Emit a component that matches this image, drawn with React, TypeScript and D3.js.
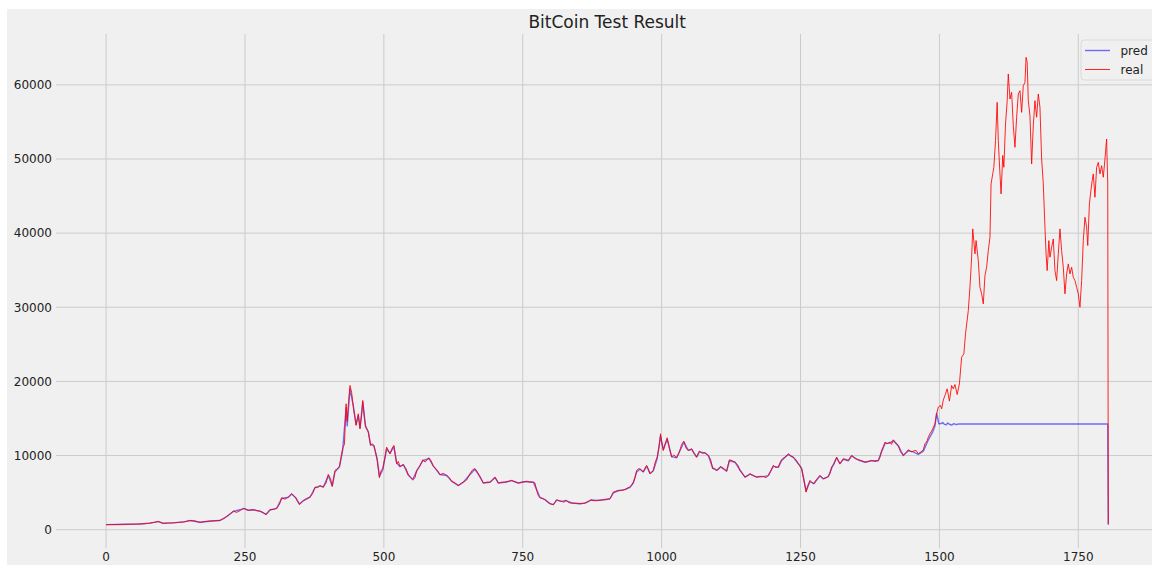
import React from 'react';
import * as d3 from 'd3';

// real price (day index, value)
const realIdx = [0,10,20,30,40,50,60,70,79,86,94,100,103,110,120,130,140,151,160,169,178,190,205,212,217,224,229,235,242,248,256,265,272,277,283,288,295,302,307,312,316,322,328,334,341,348,355,361,367,372,376,381,385,391,396,400,404,407,412,416,420,423,426,429,432,434,436,439,442,445,448,450,454,457,460,462,465,467,472,476,479,482,485,488,492,495,498,502,505,511,515,518,523,526,529,535,540,544,548,552,556,559,565,570,574,578,581,585,589,595,601,607,613,618,622,628,634,638,643,649,655,660,664,668,673,679,685,691,696,700,706,712,718,724,730,736,742,750,757,763,769,772,775,778,781,786,790,795,799,805,808,811,815,820,824,828,833,838,845,853,858,862,868,873,878,883,889,895,901,907,910,913,918,922,928,934,938,943,946,949,952,955,958,961,964,967,970,973,976,979,982,985,988,992,995,998,1000,1003,1006,1010,1014,1018,1022,1027,1032,1036,1040,1044,1048,1054,1058,1063,1068,1073,1078,1084,1088,1092,1095,1099,1103,1106,1111,1117,1120,1122,1127,1132,1137,1141,1146,1150,1155,1159,1165,1171,1177,1183,1188,1192,1197,1201,1205,1210,1213,1216,1222,1228,1233,1237,1242,1246,1249,1252,1256,1260,1263,1267,1270,1274,1279,1285,1291,1296,1300,1303,1306,1310,1315,1318,1321,1324,1327,1331,1336,1342,1348,1354,1360,1366,1372,1378,1384,1390,1393,1396,1399,1402,1406,1411,1414,1417,1422,1426,1430,1435,1440,1444,1449,1453,1458,1462,1467,1471,1474,1478,1480,1483,1486,1488,1492,1495,1498,1502,1504,1507,1510,1514,1518,1522,1525,1528,1532,1536,1540,1544,1547,1552,1555,1558,1560,1564,1566,1570,1573,1576,1579,1582,1585,1588,1591,1593,1596,1598,1601,1604,1606,1609,1611,1614,1616,1619,1622,1624,1627,1630,1633,1636,1639,1642,1645,1648,1651,1654,1656,1658,1660,1663,1666,1669,1672,1675,1678,1681,1684,1687,1690,1692,1694,1697,1699,1702,1705,1708,1711,1714,1717,1720,1723,1726,1729,1732,1735,1738,1741,1744,1747,1750,1753,1756,1759,1762,1765,1767,1770,1772,1775,1777,1780,1783,1786,1789,1792,1795,1798,1801,1803,1804];
const realVal = [680,690,700,720,730,750,770,800,890,980,1120,900,840,900,920,980,1050,1250,1180,980,1100,1180,1250,1500,1800,2200,2500,2330,2600,2900,2600,2700,2550,2500,2300,2020,2700,2750,2900,3400,4310,4100,4400,4850,4300,3410,3950,4200,4400,4900,5740,5700,5920,5750,6300,7450,6900,5840,8000,8200,8530,9800,11050,11500,16980,14600,16800,19450,18500,16530,15000,14060,15630,13610,15500,17430,15000,13830,13160,11360,11600,11360,10500,9340,7010,8000,8210,9800,11130,10230,11000,11360,8890,9200,8530,8800,8200,7320,7000,6740,7000,7990,8600,9430,9120,9400,9700,9300,8530,8100,7410,7600,7320,7000,6510,6300,5970,6200,6420,6700,7550,8100,8220,7800,7100,6290,6400,6420,6700,7100,6290,6400,6420,6500,6650,6450,6290,6450,6510,6400,6420,6300,5300,4600,4310,4200,4040,3700,3500,3370,3700,4040,3900,3820,3700,3950,3650,3590,3560,3500,3550,3590,3800,4040,3900,3950,3950,4040,4050,4180,4600,5070,5200,5300,5300,5430,5600,5750,6000,6420,7000,7990,8200,8210,8000,7770,8300,8670,8200,7540,7700,7990,9000,9790,11000,12940,11800,10680,11500,12400,11000,9790,10100,9700,10500,11500,11950,11000,10680,10900,10300,9790,10600,10300,10380,10020,9500,8220,8300,8000,8200,8530,8300,7900,8800,9430,9300,9120,8700,8000,7500,7090,7300,7540,7300,7090,7200,7180,7000,7320,8000,8670,8400,8440,9000,9430,9800,10240,9900,9790,9400,8890,8600,8210,6650,5070,5900,6650,6400,6200,6800,7320,6870,7000,7180,7600,8440,8800,9790,9300,8890,9200,9560,9500,9340,10020,9600,9430,9300,9120,9200,9340,9200,9340,9800,10680,11200,11810,11600,11810,11500,12130,11700,11360,10500,10020,10400,10780,10500,10600,10700,10240,10500,10780,11590,12000,12480,12940,13300,13610,14290,15630,16530,16750,16300,17500,18100,19000,17340,19450,19000,19580,18230,19670,23270,23720,26420,29560,32700,36750,40570,37200,39000,36300,32700,31810,30460,34280,35400,37650,39440,46640,47990,48880,52480,57640,52480,47990,45290,50470,48880,54730,57870,61470,58090,58990,54500,51580,55630,58770,59210,56290,59890,60340,63710,63040,57870,55850,49330,54500,57870,55630,58770,56970,50000,46640,40790,37200,34950,38990,36750,38100,39220,34950,33600,37200,40570,37650,35400,31810,34500,35850,34500,35400,34050,33600,32700,31810,30010,33600,38990,42140,40790,38330,43940,45290,47090,47990,44840,48880,49550,47990,49100,47540,50000,52700,46640,700];

// model prediction (day index, value)
const predIdx = [0,20,40,60,79,94,103,120,140,151,169,190,205,217,229,248,256,265,277,288,295,307,316,328,334,341,348,355,367,376,385,391,400,407,412,420,426,432,434,439,445,450,454,457,462,467,472,476,482,488,492,498,505,511,518,523,529,535,544,552,559,570,581,589,601,613,622,634,643,655,664,673,679,691,700,706,718,730,742,757,769,775,781,790,799,805,811,820,828,838,853,862,873,883,895,907,913,922,934,943,949,955,961,967,973,979,985,992,998,1003,1010,1018,1027,1040,1048,1054,1063,1068,1078,1084,1092,1099,1106,1117,1122,1132,1141,1150,1159,1171,1183,1192,1201,1210,1216,1228,1237,1246,1252,1256,1260,1267,1274,1285,1291,1300,1306,1315,1321,1327,1336,1342,1354,1366,1378,1390,1396,1402,1411,1417,1426,1435,1444,1453,1462,1471,1480,1488,1492,1495,1499,1503,1506,1509,1512,1515,1518,1522,1526,1530,1536,1545,1560,1803,1804];
const predVal = [680,700,730,770,880,1080,870,920,1050,1230,1000,1170,1240,1750,2450,2850,2620,2680,2500,2080,2650,2880,4200,4380,4800,4350,3450,3900,4380,5650,5900,5760,7300,5900,7800,8450,10800,16500,14000,19000,16700,14200,15400,13700,17200,14000,13200,11500,11300,9500,7200,8100,10900,10300,11200,9000,8500,8750,7400,6750,7900,9300,9600,8600,7450,7300,6550,5950,6400,7450,8150,7150,6300,6400,7050,6300,6400,6620,6300,6500,6400,5400,4350,4050,3520,3380,3980,3820,3930,3600,3500,3580,4000,3940,4030,4170,4950,5250,5400,5700,6300,7800,8150,7800,8550,7600,7950,9600,12600,10800,12200,9850,9700,11800,10700,10850,9800,10500,10350,10000,8300,8000,8450,7900,9300,9100,8050,7100,7500,7100,7150,7300,8550,8400,9350,10150,9750,8900,8250,6800,5200,6500,6200,7250,6850,7150,8300,9700,8900,9500,9300,9950,9400,9100,9300,9300,10500,11600,11700,12000,11300,10000,10650,10500,10150,10600,12100,13200,14000,15720,14290,14300,14450,14200,14150,14380,14220,14100,14300,14180,14270,14250,14260,14260,700];

const xTicks = [0, 250, 500, 750, 1000, 1250, 1500, 1750];
const yTicks = [0, 10000, 20000, 30000, 40000, 50000, 60000];
const legendLabels = ['pred', 'real'];

const W = 1152;
const H = 565;
const plot = { left: 56, right: 1158.4, top: 34, bottom: 548 };
const font = 'DejaVu Sans, Liberation Sans, sans-serif';

export default function App() {
  const xMax = d3.max(realIdx) as number;
  const allVals = realVal.concat(predVal);
  const yMin = d3.min(allVals) as number;
  const yMax = d3.max(allVals) as number;
  const xPad = xMax * 0.05;
  const yPad = (yMax - yMin) * 0.05;

  const x = d3.scaleLinear().domain([-xPad, xMax + xPad]).range([plot.left, plot.right]);
  const y = d3.scaleLinear().domain([yMin - yPad, yMax + yPad]).range([plot.bottom, plot.top]);

  const line = d3.line<[number, number]>().x(d => x(d[0])).y(d => y(d[1]));
  const realPts = realIdx.map((d, i) => [d, realVal[i]] as [number, number]);
  const predPts = predIdx.map((d, i) => [d, predVal[i]] as [number, number]);

  const colors = ['#0000ff', '#ff0000'];
  const opac = [0.55, 0.85];
  const widths = [1.4, 1];

  return (
    <svg width={W} height={H} style={{ position: 'absolute', left: 0, top: 0 }} fontFamily={font}>
      <rect x={0} y={0} width={W} height={H} fill="#ffffff" />
      <rect x={7} y={9} width={W - 7} height={H - 9} fill="#f0f0f0" />

      {/* grid */}
      {xTicks.map(t => (
        <line key={'gx' + t} x1={x(t)} x2={x(t)} y1={plot.top} y2={plot.bottom} stroke="#cbcbcb" strokeWidth={1} />
      ))}
      {yTicks.map(t => (
        <line key={'gy' + t} x1={plot.left} x2={plot.right} y1={y(t)} y2={y(t)} stroke="#cbcbcb" strokeWidth={1} />
      ))}

      {/* tick labels */}
      {xTicks.map(t => (
        <text key={'tx' + t} x={x(t)} y={560.5} textAnchor="middle" fontSize={12} fill="#222">{t}</text>
      ))}
      {yTicks.map(t => (
        <text key={'ty' + t} x={plot.left - 4} y={y(t)} dy="0.36em" textAnchor="end" fontSize={12} fill="#222">{t}</text>
      ))}

      {/* series */}
      <path d={line(predPts) ?? ''} fill="none" stroke={colors[0]} strokeOpacity={opac[0]} strokeWidth={widths[0]} strokeLinejoin="round" />
      <path d={line(realPts) ?? ''} fill="none" stroke={colors[1]} strokeOpacity={opac[1]} strokeWidth={widths[1]} strokeLinejoin="round" />

      <text x={(plot.left + plot.right) / 2} y={28} textAnchor="middle" fontSize={17} fill="#222">BitCoin Test Result</text>

      {/* legend */}
      <rect x={1081} y={40} width={80} height={40} rx={3} fill="#f0f0f0" stroke="#dadada" strokeWidth={1} />
      {legendLabels.map((l, i) => (
        <g key={l} transform={`translate(1085, ${50.5 + i * 19})`}>
          <line x1={0} x2={25} y1={0} y2={0} stroke={colors[i]} strokeOpacity={opac[i]} strokeWidth={widths[i]} />
          <text x={35.5} y={0} dy="0.36em" fontSize={12} fill="#222">{l}</text>
        </g>
      ))}
    </svg>
  );
}
